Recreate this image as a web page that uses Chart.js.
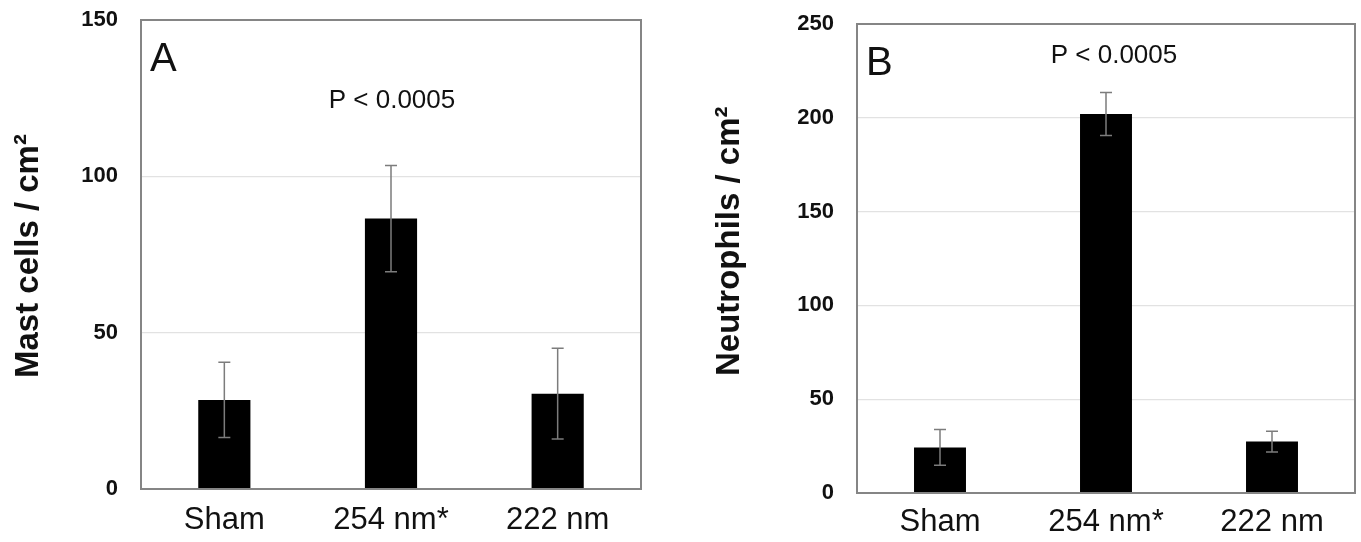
<!DOCTYPE html>
<html><head><meta charset="utf-8">
<script src="https://cdn.jsdelivr.net/npm/chart.js@4.4.0/dist/chart.umd.min.js"></script>
<style>
html,body{margin:0;padding:0;background:#fff;}
#wrap{position:relative;width:1361px;height:542px;overflow:hidden;background:#fff;}
.c{position:absolute;top:0;height:542px;}
</style></head><body>
<div id="wrap">
<div class="c" style="left:0;width:680px"><canvas id="chartA"></canvas></div>
<div class="c" style="left:690px;width:671px"><canvas id="chartB"></canvas></div>
</div>
<script>
// ---- data ----
const categories = ['Sham', '254 nm*', '222 nm'];
const mastMeans = [28.5, 86.5, 30.5];
const mastErrors = [12, 17, 14.5];
const neutroMeans = [24.3, 202, 27.4];
const neutroErrors = [9.5, 11.5, 5.5];
const mastTicks = [0, 50, 100, 150];
const neutroTicks = [0, 50, 100, 150, 200, 250];
const panelLabels = ['A', 'B'];
const yTitles = ['Mast cells / cm\u00B2', 'Neutrophils / cm\u00B2'];
const pText = 'P < 0.0005';

const FONT = "'Liberation Sans', Arial, Helvetica, sans-serif";

const decorPlugin = {
  id: 'decor',
  afterDatasetsDraw(chart, args, opts) {
    const ctx = chart.ctx;
    const ca = chart.chartArea;
    const ys = chart.scales.y;
    const meta = chart.getDatasetMeta(0);
    const means = chart.data.datasets[0].data;
    ctx.save();
    // error bars
    ctx.strokeStyle = '#7c7c7c';
    ctx.lineWidth = 1.5;
    meta.data.forEach((bar, i) => {
      const m = means[i], e = opts.errors[i];
      const yt = ys.getPixelForValue(m + e);
      const yb = ys.getPixelForValue(m - e);
      const x = bar.x;
      ctx.beginPath();
      ctx.moveTo(x, yt); ctx.lineTo(x, yb);
      ctx.moveTo(x - 6, yt); ctx.lineTo(x + 6, yt);
      ctx.moveTo(x - 6, yb); ctx.lineTo(x + 6, yb);
      ctx.stroke();
    });
    // frame
    ctx.strokeStyle = '#858585';
    ctx.lineWidth = 2;
    ctx.strokeRect(ca.left, ca.top, ca.right - ca.left, ca.bottom - ca.top);
    // panel letter
    ctx.fillStyle = '#111';
    ctx.font = '40px ' + FONT;
    ctx.textAlign = 'left';
    ctx.textBaseline = 'alphabetic';
    ctx.fillText(opts.letter, ca.left + 9, ca.top + 51);
    // p value
    ctx.font = '26px ' + FONT;
    ctx.textAlign = 'center';
    const mid = meta.data[1].x;
    ctx.fillText(opts.ptext, mid + opts.pDx, ca.top + opts.pOffset);
    // y axis title (rotated)
    ctx.translate(opts.titleX, ca.bottom - opts.titleStart);
    ctx.rotate(-Math.PI / 2);
    ctx.font = 'bold 33px ' + FONT;
    ctx.textAlign = 'left';
    ctx.textBaseline = 'middle';
    ctx.fillText(opts.title, 0, 0);
    ctx.restore();
  }
};

function makeChart(id, means, errors, ticks, title, letter, yW, xH, padR, padT, xPad, pOffset, pDx, titleX, titleStart) {
  const maxV = ticks[ticks.length - 1];
  return new Chart(document.getElementById(id), {
    type: 'bar',
    data: {
      labels: categories,
      datasets: [{
        data: means,
        backgroundColor: '#000',
        borderWidth: 0,
        categoryPercentage: 1,
        barPercentage: 0.313
      }]
    },
    options: {
      responsive: true,
      maintainAspectRatio: false,
      animation: false,
      devicePixelRatio: 1,
      layout: { padding: { left: 0, right: padR, top: padT, bottom: 0 } },
      plugins: {
        legend: { display: false },
        tooltip: { enabled: false },
        decor: { errors: errors, letter: letter, ptext: pText, pOffset: pOffset, pDx: pDx,
                 title: title, titleX: titleX, titleStart: titleStart }
      },
      scales: {
        x: {
          grid: { display: false, drawTicks: false },
          border: { display: false },
          ticks: { color: '#111', font: { family: FONT, size: 31 }, padding: xPad, maxRotation: 0, autoSkip: false },
          afterFit(s) { s.height = xH; }
        },
        y: {
          min: 0, max: maxV,
          afterBuildTicks(s) { s.ticks = ticks.map(v => ({ value: v })); },
          grid: {
            drawTicks: true,
            tickLength: 23,
            tickColor: 'rgba(0,0,0,0)',
            lineWidth: 1.2,
            color: c => (c.tick && (c.tick.value === 0 || c.tick.value === maxV)) ? 'rgba(0,0,0,0)' : '#e2e2e2'
          },
          border: { display: false },
          ticks: { color: '#111', font: { family: FONT, size: 22, weight: 'bold' }, padding: 0 },
          title: { display: false },
          afterFit(s) { s.width = yW; }
        }
      }
    },
    plugins: [decorPlugin]
  });
}

makeChart('chartA', mastMeans, mastErrors, mastTicks, yTitles[0], panelLabels[0], 141, 53, 39, 20, 13, 88, 1, 29, 111);
makeChart('chartB', neutroMeans, neutroErrors, neutroTicks, yTitles[1], panelLabels[1], 167, 49, 6, 24, 11, 39, 8, 40, 117);
</script>
</body></html>
